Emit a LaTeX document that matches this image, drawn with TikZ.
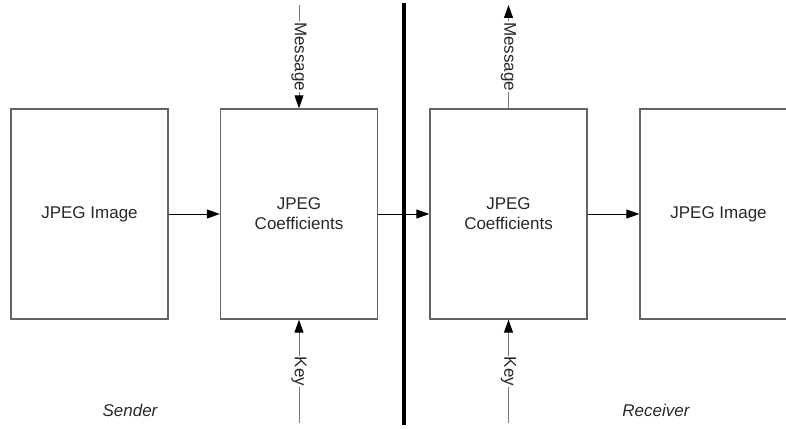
\documentclass[tikz,border=0pt]{standalone}
\usepackage{fontspec}
\setmainfont{Liberation Sans}
\usetikzlibrary{arrows.meta}
\definecolor{boxgray}{RGB}{100,100,100}
\definecolor{linegray}{RGB}{120,120,120}
\definecolor{txt}{RGB}{40,40,40}
\begin{document}
\begin{tikzpicture}[x=1pt,y=-1pt,
  font=\fontsize{17}{20}\selectfont,
  box/.style={draw=boxgray,line width=1.3pt,minimum width=157pt,minimum height=210pt,
    align=center,inner sep=0pt,text=txt},
  harr/.style={draw=black,line width=0.9pt,-{Triangle[length=13pt,width=9pt]}},
  varr/.style={draw=linegray,line width=1pt,-{Triangle[length=13pt,width=9pt,color=black]}},
  vlab/.style={rotate=-90,fill=white,inner sep=1pt,text=txt},
  side/.style={font=\fontsize{17}{20}\selectfont\itshape,text=txt}]
\clip (0,0) rectangle (786,428);
\node[box] (b1) at (89.5,214) {JPEG Image};
\node[box] (b2) at (299,214) {JPEG\\Coefficients};
\node[box] (b3) at (508.5,214) {JPEG\\Coefficients};
\node[box] (b4) at (718.5,214) {JPEG Image};
\draw[harr] (b1) -- (b2);
\draw[harr] (b2) -- (b3);
\draw[harr] (b3) -- (b4);
\coordinate (m1) at (299,5);
\coordinate (m2) at (508.5,5);
\coordinate (k1) at (299,423);
\coordinate (k2) at (508.5,423);
\draw[varr] (m1) -- (b2.north) node[midway,vlab] {Message};
\draw[varr] (b3.north) -- (m2) node[midway,vlab] {Message};
\draw[varr] (k1) -- (b2.south) node[midway,vlab] {Key};
\draw[varr] (k2) -- (b3.south) node[midway,vlab] {Key};
\coordinate (t1) at (403.5,3);
\coordinate (t2) at (403.5,425);
\draw[line width=4pt] (t1) -- (t2);
\node[side] (snd) at (130,410) {Sender};
\node[side] (rcv) at (656,410) {Receiver};
\end{tikzpicture}
\end{document}
